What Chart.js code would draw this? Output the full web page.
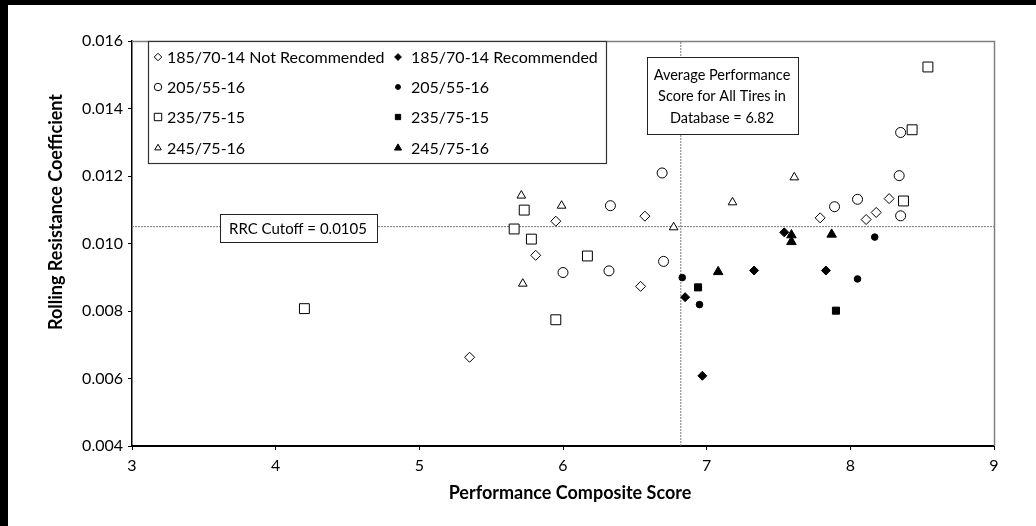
<!DOCTYPE html>
<html>
<head>
<meta charset="utf-8">
<script src="https://cdn.jsdelivr.net/npm/chart.js"></script>
<style>
  html, body { margin: 0; padding: 0; background: #fff; }
  #frame {
    width: 1036px; height: 526px; box-sizing: border-box;
    border-top: 5px solid #000; border-left: 8px solid #000;
  }
  #wrap { position: relative; width: 1028px; height: 521px; }
</style>
</head>
<body>
<div id="frame"><div id="wrap"><canvas id="rrcChart"></canvas></div></div>
<script>
// series labels
const seriesLabels = [
    '185/70-14 Not Recommended', '185/70-14 Recommended',
    '205/55-16', '205/55-16',
    '235/75-15', '235/75-15',
    '245/75-16', '245/75-16'
];

// 185/70-14 not recommended (open diamond)
const notRec185X = [5.35, 5.81, 5.95, 6.54, 6.57, 7.79, 8.11, 8.18, 8.27];
const notRec185Y = [0.00663, 0.00965, 0.01066, 0.00873, 0.01081, 0.01076, 0.01071, 0.01092, 0.01133];
// 185/70-14 recommended (filled diamond)
const rec185X = [6.85, 6.97, 7.33, 7.54, 7.83];
const rec185Y = [0.00841, 0.00608, 0.00920, 0.01033, 0.00920];

// 205/55-16
const open205X = [6.00, 6.32, 6.33, 6.69, 6.70, 7.89, 8.05, 8.34, 8.35, 8.35];
const open205Y = [0.00914, 0.00919, 0.01112, 0.01209, 0.00947, 0.01109, 0.01131, 0.01201, 0.01082, 0.01329];
const filled205X = [6.83, 6.95, 8.05, 8.17];
const filled205Y = [0.00899, 0.00819, 0.00895, 0.01019];

// 235/75-15
const open235X = [4.20, 5.66, 5.73, 5.78, 5.95, 6.17, 8.37, 8.43, 8.54];
const open235Y = [0.00807, 0.01043, 0.01099, 0.01013, 0.00774, 0.00963, 0.01126, 0.01337, 0.01523];
const filled235X = [6.94, 7.90];
const filled235Y = [0.00870, 0.00801];

// 245/75-16
const open245X = [5.71, 5.72, 5.99, 6.77, 7.18, 7.61];
const open245Y = [0.01142, 0.00881, 0.01112, 0.01048, 0.01122, 0.01196];
const filled245X = [7.08, 7.59, 7.59, 7.87];
const filled245Y = [0.00916, 0.01025, 0.01005, 0.01027];

// reference values
const AVG_SCORE = 6.82;
const CUTOFF = 0.0105;

// axis ranges / ticks
const xRange = [3, 9];
const yRange = [0.004, 0.016];
const xStep = 1;
const yStep = 0.002;

const FONT = 'Lato, "Noto Sans", sans-serif';

function pts(xs, ys) {
    return xs.map((x, i) => ({ x: x, y: ys[i] }));
}

function series(label, xs, ys, style, radius, filled) {
    return {
        type: 'scatter',
        label: label,
        data: pts(xs, ys),
        pointStyle: style,
        pointRadius: radius,
        pointHoverRadius: radius,
        pointBorderWidth: 1,
        backgroundColor: filled ? '#000' : '#fff',
        borderColor: '#000',
        order: 1
    };
}

// order matches the legend: left column = open, right column = filled
const datasets = [
    series(seriesLabels[0], notRec185X, notRec185Y, 'rectRot', 5, false),
    series(seriesLabels[1], rec185X, rec185Y, 'rectRot', 4.5, true),
    series(seriesLabels[2], open205X, open205Y, 'circle', 5, false),
    series(seriesLabels[3], filled205X, filled205Y, 'circle', 3.3, true),
    series(seriesLabels[4], open235X, open235Y, 'rect', 7, false),
    series(seriesLabels[5], filled235X, filled235Y, 'rect', 5, true),
    series(seriesLabels[6], open245X, open245Y, 'triangle', 5, false),
    series(seriesLabels[7], filled245X, filled245Y, 'triangle', 5.5, true),
    {
        type: 'line', label: 'cutoff',
        data: [{ x: xRange[0], y: CUTOFF }, { x: xRange[1], y: CUTOFF }],
        borderColor: '#7a7a7a', borderWidth: 1, borderDash: [2, 1],
        pointRadius: 0, order: 10
    },
    {
        type: 'line', label: 'average',
        data: [{ x: AVG_SCORE, y: yRange[0] }, { x: AVG_SCORE, y: yRange[1] }],
        borderColor: '#7a7a7a', borderWidth: 1, borderDash: [2, 1],
        pointRadius: 0, order: 10
    }
];

function boxText(ctx, x1, y1, x2, y2, lines, cx, ys) {
    ctx.fillStyle = '#fff';
    ctx.fillRect(x1, y1, x2 - x1, y2 - y1);
    ctx.strokeStyle = '#222';
    ctx.lineWidth = 1;
    ctx.strokeRect(x1 + 0.5, y1 + 0.5, x2 - x1, y2 - y1);
    ctx.fillStyle = '#000';
    ctx.textAlign = 'center';
    ctx.textBaseline = 'middle';
    lines.forEach((t, i) => ctx.fillText(t, cx, ys[i]));
}

const decor = {
    id: 'decor',
    beforeDatasetsDraw(chart) {
        const { ctx, chartArea: a } = chart;
        ctx.save();
        ctx.strokeStyle = '#808080';
        ctx.lineWidth = 1.5;
        ctx.beginPath();
        ctx.moveTo(a.left, a.top + 0.5);
        ctx.lineTo(a.right + 0.5, a.top + 0.5);
        ctx.lineTo(a.right + 0.5, a.bottom);
        ctx.stroke();
        ctx.restore();
    },
    afterDatasetsDraw(chart) {
        const { ctx, chartArea: a } = chart;
        ctx.save();

        // legend box
        const lx1 = a.left + 16, ly1 = a.top, lx2 = a.left + 474, ly2 = a.top + 122;
        ctx.fillStyle = '#fff';
        ctx.fillRect(lx1, ly1, lx2 - lx1, ly2 - ly1);
        ctx.strokeStyle = '#333';
        ctx.lineWidth = 1.2;
        ctx.strokeRect(lx1 + 0.5, ly1 + 0.5, lx2 - lx1, ly2 - ly1);
        const rowY = [16, 46, 76, 107];
        const colMark = [26, 266];
        const colText = [35, 279];
        ctx.font = '16px ' + FONT;
        ctx.textAlign = 'left';
        ctx.textBaseline = 'middle';
        chart.data.datasets.slice(0, 8).forEach((ds, i) => {
            const col = i % 2, row = Math.floor(i / 2);
            const mx = a.left + colMark[col], my = a.top + rowY[row];
            ctx.fillStyle = ds.backgroundColor;
            ctx.strokeStyle = '#000';
            ctx.lineWidth = 1;
            Chart.helpers.drawPoint(ctx, {
                pointStyle: ds.pointStyle, radius: ds.pointRadius * 0.75,
                rotation: 0, borderWidth: 1
            }, mx, my);
            ctx.fillStyle = '#000';
            ctx.fillText(ds.label, a.left + colText[col], my + 1);
        });

        // annotation boxes
        ctx.font = '14.5px ' + FONT;
        boxText(ctx, a.left + 515, a.top + 16, a.left + 666, a.top + 93,
            ['Average Performance', 'Score for All Tires in', 'Database = ' + AVG_SCORE.toFixed(2)],
            a.left + 590, [a.top + 34, a.top + 55, a.top + 77]);
        ctx.font = '15px ' + FONT;
        boxText(ctx, a.left + 88, a.top + 173, a.left + 245, a.top + 201,
            ['RRC Cutoff = ' + CUTOFF.toFixed(4)],
            a.left + 166, [a.top + 188]);

        // axis titles
        ctx.fillStyle = '#000';
        ctx.font = 'bold 18px ' + FONT;
        ctx.textAlign = 'center';
        ctx.textBaseline = 'middle';
        ctx.fillText('Performance Composite Score', (a.left + a.right) / 2 + 7, a.bottom + 47);
        ctx.translate(48, 207);
        ctx.rotate(-Math.PI / 2);
        ctx.fillText('Rolling Resistance Coefficient', 0, 0);
        ctx.restore();
    }
};

new Chart(document.getElementById('rrcChart'), {
    data: { datasets: datasets },
    options: {
        responsive: true,
        maintainAspectRatio: false,
        animation: false,
        events: [],
        layout: { padding: { left: 0, right: 42, top: 36, bottom: 0 } },
        plugins: { legend: { display: false }, tooltip: { enabled: false } },
        scales: {
            x: {
                type: 'linear',
                min: xRange[0], max: xRange[1],
                afterFit(scale) { scale.height = 80; },
                ticks: { stepSize: xStep, padding: 6, color: '#000', font: { family: FONT, size: 16 } },
                grid: { drawOnChartArea: false, drawTicks: true, tickLength: 4, color: '#000' },
                border: { display: true, color: '#000', width: 2 }
            },
            y: {
                type: 'linear',
                min: yRange[0], max: yRange[1],
                afterFit(scale) { scale.width = 124; },
                ticks: {
                    stepSize: yStep, padding: 5, color: '#000',
                    font: { family: FONT, size: 16 },
                    callback: v => v.toFixed(3)
                },
                grid: { drawOnChartArea: false, drawTicks: true, tickLength: 4, color: '#000' },
                border: { display: true, color: '#000', width: 1.5 }
            }
        }
    },
    plugins: [decor]
});
</script>
</body>
</html>
